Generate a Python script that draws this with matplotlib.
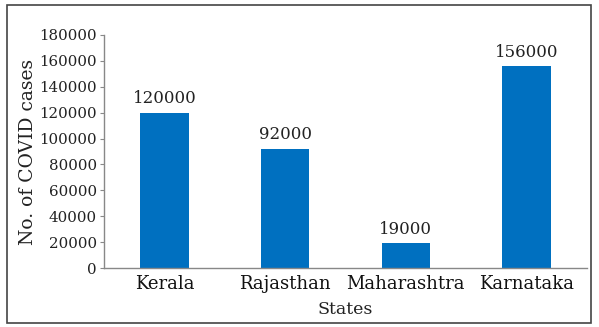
import matplotlib
matplotlib.use('Agg')
import matplotlib.pyplot as plt
from matplotlib.patches import Rectangle

states = ['Kerala', 'Rajasthan', 'Maharashtra', 'Karnataka']
cases = [120000, 92000, 19000, 156000]
yticks = [0, 20000, 40000, 60000, 80000, 100000, 120000, 140000, 160000, 180000]

plt.rcParams['font.family'] = ['DejaVu Serif']

fig = plt.figure(figsize=(5.99, 3.27), dpi=100, facecolor='w')
ax = fig.add_axes([104/599, 1 - 268/327, 483/599, 233/327])

bars = ax.bar(range(len(states)), cases, width=0.4, color='#0070C0')
for x, v in zip(range(len(states)), cases):
    ax.annotate('{}'.format(v), (x, v), xytext=(0, 4), textcoords='offset points',
                ha='center', va='bottom', fontsize=12, color='#222222')

ax.set_xlim(-0.5, 3.5)
ax.set_ylim(0, 180000)
ax.set_yticks(yticks)
ax.set_xticks(range(len(states)))
ax.set_xticklabels(states, fontsize=13)
ax.tick_params(axis='x', length=0, pad=5, colors='#111111')
ax.tick_params(axis='y', length=3, width=0.8, labelsize=10.8, color='#888888', labelcolor='#222222', pad=2)

for s in ['top', 'right']:
    ax.spines[s].set_visible(False)
for s in ['left', 'bottom']:
    ax.spines[s].set_color('#888888')
    ax.spines[s].set_linewidth(1.0)

ax.set_ylabel('No. of COVID cases', fontsize=13.5, color='#222222', labelpad=2)
ax.set_xlabel('States', fontsize=12.5, color='#222222', labelpad=6)

# outer frame
fig.patches.append(Rectangle((7/599, 4/327), 584/599, 318/327, transform=fig.transFigure,
                             fill=False, edgecolor='#444444', linewidth=1.2))

fig.savefig('out.png', dpi=100)
